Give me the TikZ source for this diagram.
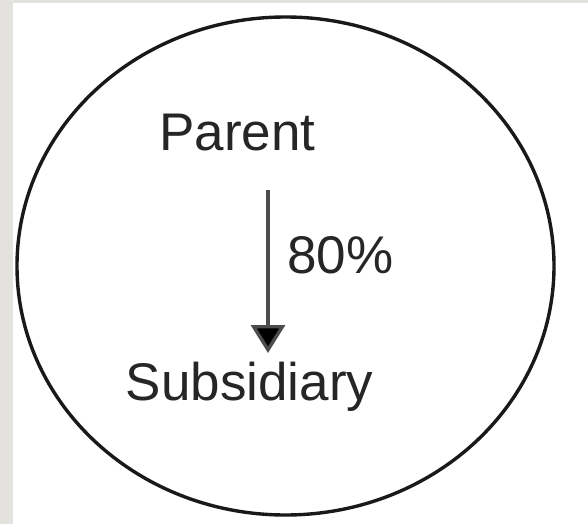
\documentclass[tikz,border=0pt]{standalone}
\usepackage{fontspec}
\setmainfont{Liberation Sans}
\usetikzlibrary{positioning,arrows.meta}
\definecolor{pagegray}{HTML}{E4E2DE}

\begin{document}
\begin{tikzpicture}[x=1pt,y=1pt,font=\fontsize{53}{60}\selectfont,
    label/.style={inner sep=0pt,text=black!85},
    share/.style={line width=3.4pt,draw=black!70,-{Triangle[length=28pt,width=34pt,fill=black]}}]
  \useasboundingbox (0,0) rectangle (588,-524);
  \fill[pagegray] (0,0) rectangle (588,-524);
  \fill[white] (13,-3) rectangle (588,-524);
  % group boundary
  \draw[line width=3.4pt,black!90] (285.5,-266) ellipse [x radius=268.5, y radius=249];
  \node[label,anchor=base] (parent) at (237.5,-150) {Parent};
  \node[label,anchor=base] (sub) at (249.5,-400) {Subsidiary};
  \coordinate (from) at ([xshift=30.5pt,yshift=-40pt]parent.base);
  \coordinate (to) at ([xshift=18.5pt,yshift=47pt]sub.base);
  \draw[share] (from) -- (to);
  \node[label,anchor=base west] (pct) at (287,-273) {80\%};
\end{tikzpicture}
\end{document}
